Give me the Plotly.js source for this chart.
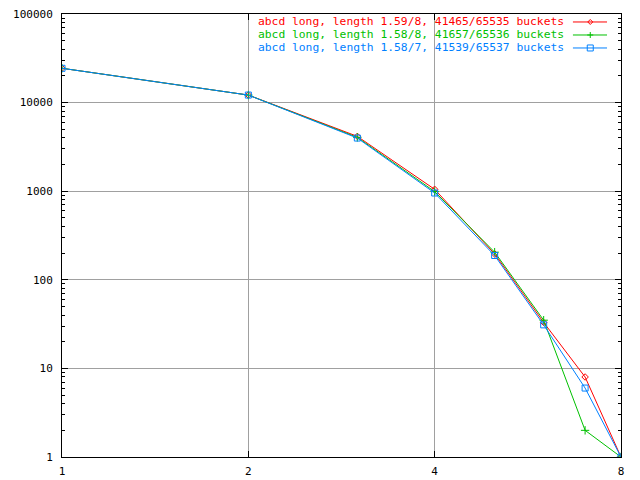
<!DOCTYPE html>
<html>
<head>
<meta charset="utf-8">
<script src="https://cdn.plot.ly/plotly-3.0.1.min.js"></script>
<style>html,body{margin:0;padding:0;background:#fff;}#chart{width:640px;height:480px;}</style>
</head>
<body>
<div id="chart"></div>
<script>
// Chain lengths (x) and number of buckets with that length (y)
const lengths = [1, 2, 3, 4, 5, 6, 7, 8];
const seriesNames = [
  "abcd long, length 1.59/8, 41465/65535 buckets",
  "abcd long, length 1.58/8, 41657/65536 buckets",
  "abcd long, length 1.58/7, 41539/65537 buckets"
];
const redCounts   = [24400, 12160, 4160, 1050, 196, 33, 8, 1];
const greenCounts = [24400, 12160, 4050, 990, 205, 35, 2, 1];
const blueCounts  = [24380, 12160, 3980, 954, 188, 31, 6, 1];
const xTicks = [1, 2, 4, 8];
const yTicks = [1, 10, 100, 1000, 10000, 100000];
const yTickText = ["1", "10", "100", "1000", "10000", "100000"];

const colors = ["#ff0000", "#00c000", "#0080ff"];
const symbols = ["diamond-open", "cross-thin-open", "square-open"];
const sizes = [5, 6, 6];
const allCounts = [redCounts, greenCounts, blueCounts];

const traces = allCounts.map((c, i) => ({
  x: lengths, y: c, name: seriesNames[i], type: "scatter", mode: "lines+markers",
  line: {color: colors[i], width: 1},
  marker: {symbol: symbols[i], size: sizes[i], color: colors[i], line: {color: colors[i], width: 1}},
  showlegend: false
}));

const minorVals = [];
for (let d = 0; d < 5; d++) for (let k = 2; k <= 9; k++) minorVals.push(k * Math.pow(10, d));

const font = {family: "DejaVu Sans Mono, Liberation Mono, monospace", size: 11, color: "#000"};

// Manual gnuplot-style legend (text right-aligned, sample on the right)
const rowY = [0.982, 0.9526, 0.9233];
const annotations = seriesNames.map((n, i) => ({
  xref: "paper", yref: "paper", x: 0.8998, y: rowY[i], xanchor: "right", yanchor: "middle",
  text: n, showarrow: false, font: {family: font.family, size: 11.3, color: colors[i]}, borderpad: 0
}));
const markerPaths = [
  "M-2.5,0 L0,2.5 L2.5,0 L0,-2.5 Z",
  "M-3,0 L3,0 M0,-3 L0,3",
  "M-3,-3 L3,-3 L3,3 L-3,3 Z"
];
const shapes = [];
seriesNames.forEach((n, i) => {
  shapes.push({type: "line", xref: "paper", yref: "paper", x0: 0.914, x1: 0.975, y0: rowY[i], y1: rowY[i],
    line: {color: colors[i], width: 1}});
  shapes.push({type: "path", xref: "paper", yref: "paper", xsizemode: "pixel", ysizemode: "pixel",
    xanchor: 0.945, yanchor: rowY[i], path: markerPaths[i], line: {color: colors[i], width: 1}});
});

const layout = {
  width: 640, height: 480,
  margin: {l: 62, r: 19, t: 14, b: 23},
  paper_bgcolor: "#fff", plot_bgcolor: "#fff",
  font: font,
  showlegend: false,
  xaxis: {
    type: "log", range: [0, Math.log10(8)], tickmode: "array", tickvals: xTicks,
    ticktext: xTicks.map(String), ticks: "inside", ticklen: 6, tickcolor: "#000",
    showline: true, linecolor: "#000", linewidth: 1, mirror: "allticks",
    showgrid: true, gridcolor: "#a0a0a0", gridwidth: 1, zeroline: false,
    ticklabelstandoff: 4, tickfont: font
  },
  yaxis: {
    type: "log", range: [0, 5], tickmode: "array", tickvals: yTicks, ticktext: yTickText,
    ticks: "inside", ticklen: 6, tickcolor: "#000",
    minor: {tickmode: "array", tickvals: minorVals, ticks: "inside", ticklen: 3, tickcolor: "#000", showgrid: false},
    showline: true, linecolor: "#000", linewidth: 1, mirror: "allticks",
    showgrid: true, gridcolor: "#a0a0a0", gridwidth: 1, zeroline: false,
    ticklabelstandoff: 6, tickfont: font
  },
  annotations: annotations,
  shapes: shapes
};

Plotly.newPlot("chart", traces, layout, {staticPlot: true, displayModeBar: false});
</script>
</body>
</html>
